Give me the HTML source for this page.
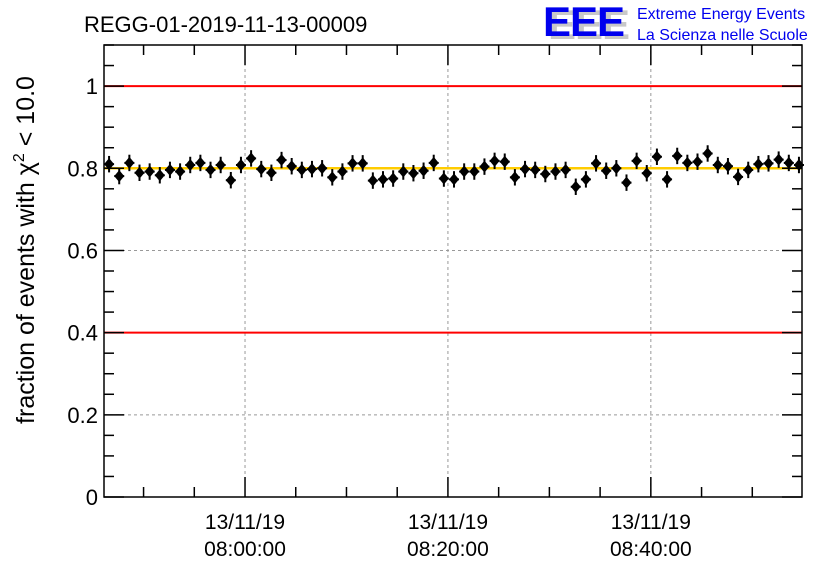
<!DOCTYPE html>
<html><head><meta charset="utf-8"><style>
body{margin:0;background:#fff;}
svg{display:block;font-family:"Liberation Sans",sans-serif;}
</style></head><body>
<svg id="chart" width="836" height="572" viewBox="0 0 836 572" xmlns="http://www.w3.org/2000/svg">
<rect x="0" y="0" width="836" height="572" fill="#fff"/>
<text x="84" y="32" font-size="22" fill="#000">REGG-01-2019-11-13-00009</text>
<g>
<text x="548" y="39" font-size="42" font-weight="bold" fill="#c8c8c8" letter-spacing="-1">EEE</text>
<text x="543" y="36" font-size="42" font-weight="bold" fill="#0000ee" letter-spacing="-1">EEE</text>
</g>
<text x="637" y="19" font-size="16" fill="#0000ee">Extreme Energy Events</text>
<text x="637" y="40" font-size="16" fill="#0000ee">La Scienza nelle Scuole</text>
<g id="grid"></g>
<g id="refs"></g>
<g id="points"></g>
<g id="axes"></g>
<text transform="translate(34,250) rotate(-90)" text-anchor="middle" font-size="25" fill="#000">fraction of events with χ<tspan font-size="16" dy="-10">2</tspan><tspan dy="10"> &lt; 10.0</tspan></text>
</svg>
<script>
const yTickLabels = ["0","0.2","0.4","0.6","0.8","1"];
const yTickValues = [0,0.2,0.4,0.6,0.8,1.0];
const xTickMinutes = [0,20,40];
const xTickDates = ["13/11/19","13/11/19","13/11/19"];
const xTickTimes = ["08:00:00","08:20:00","08:40:00"];
const refValues = [1.0,0.4];
const meanValue = [0.8];
const fractions = [
0.810,0.781,0.813,0.789,0.792,0.783,0.796,0.792,0.808,0.813,0.796,0.808,0.771,0.808,0.824,0.798,0.789,0.820,0.805,0.796,0.798,0.800,0.778,
0.792,0.812,0.812,0.770,0.773,0.775,0.792,0.788,0.794,0.813,0.775,0.773,0.792,0.792,0.804,0.818,0.816,0.778,0.798,0.796,0.786,0.792,0.796,
0.755,0.773,0.812,0.794,0.800,0.765,0.818,0.788,0.828,0.773,0.830,0.813,0.816,0.836,0.808,0.805,0.779,0.796,0.810,0.812,0.821,0.813,0.808];
const firstMinute = -13.4;
const errorValues = [0.02];

const L=104,R=802,T=45,B=497;
const yMin=0,yMax=1.1,xMin=-13.9,xMax=54.9;
const yS=v=>B-(v-yMin)/(yMax-yMin)*(B-T);
const xS=m=>L+(m-xMin)/(xMax-xMin)*(R-L);
const NS="http://www.w3.org/2000/svg";
function mk(tag,attrs,parent){const e=document.createElementNS(NS,tag);for(const k in attrs)e.setAttribute(k,attrs[k]);parent.appendChild(e);return e;}
const grid=document.getElementById('grid'),refs=document.getElementById('refs'),pts=document.getElementById('points'),axes=document.getElementById('axes');

yTickValues.forEach(v=>{if(v>0){const g=mk('line',{x1:L,x2:R,y1:yS(v),y2:yS(v),stroke:'#999','stroke-dasharray':'3,3','stroke-width':1},grid);

}});
xTickMinutes.forEach(m=>{const g=mk('line',{x1:xS(m),x2:xS(m),y1:T,y2:B,stroke:'#999','stroke-dasharray':'3,3','stroke-width':1},grid);

});

refValues.forEach(v=>{const l=mk('line',{x1:L,x2:R,y1:yS(v),y2:yS(v),stroke:'#ff0000','stroke-width':2},refs);

});
meanValue.forEach(v=>{const l=mk('line',{x1:L,x2:R,y1:yS(v),y2:yS(v),stroke:'#ffcc00','stroke-width':2.5},refs);

});

fractions.forEach((v,i)=>{
  const cx=xS(firstMinute+i), cy=yS(v), e=errorValues[0];
  const g=mk('g',{},pts);
  
  
  mk('line',{x1:cx,x2:cx,y1:yS(v+e),y2:yS(v-e),stroke:'#000','stroke-width':2},g);
  mk('line',{x1:cx-5,x2:cx+5,y1:cy,y2:cy,stroke:'#000','stroke-width':2},g);
  mk('polygon',{points:`${cx},${cy-6} ${cx+5},${cy} ${cx},${cy+6} ${cx-5},${cy}`,fill:'#000'},g);
});

const fr=mk('rect',{x:L,y:T,width:R-L,height:B-T,fill:'none',stroke:'#000','stroke-width':1.5},axes);


for(let v=0;v<=1.1001;v+=0.05){const y=yS(v);const major=Math.abs(v/0.2-Math.round(v/0.2))<1e-6;const len=major?20:10;
  mk('line',{x1:L,x2:L+len,y1:y,y2:y,stroke:'#000','stroke-width':1.5},axes);
  mk('line',{x1:R,x2:R-len,y1:y,y2:y,stroke:'#000','stroke-width':1.5},axes);}
yTickValues.forEach((v,i)=>{const t=mk('text',{x:L-6,y:yS(v)+8,'text-anchor':'end','font-size':22,fill:'#000'},axes);t.textContent=yTickLabels[i];

});
for(let m=-10;m<=54.9;m+=5){const x=xS(m);const major=m%20===0;const len=major?20:10;
  mk('line',{x1:x,x2:x,y1:B,y2:B-len,stroke:'#000','stroke-width':1.5},axes);
  mk('line',{x1:x,x2:x,y1:T,y2:T+len,stroke:'#000','stroke-width':1.5},axes);}
xTickMinutes.forEach((m,i)=>{
  const a=mk('text',{x:xS(m),y:529,'text-anchor':'middle','font-size':21,fill:'#000'},axes);a.textContent=xTickDates[i];
  
  
  const b=mk('text',{x:xS(m),y:556,'text-anchor':'middle','font-size':21,fill:'#000'},axes);b.textContent=xTickTimes[i];
  
  });
</script>
</body></html>
